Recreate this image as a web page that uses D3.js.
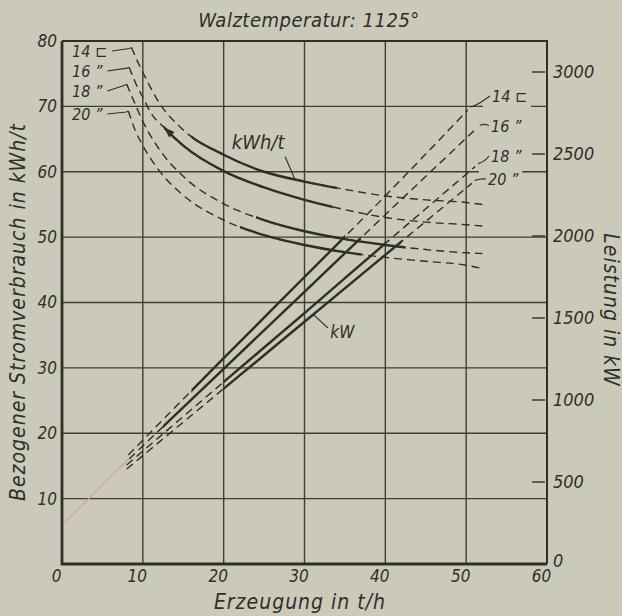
<!DOCTYPE html>
<meta charset="utf-8">
<style>
    body { margin: 0; background: #cbc9ba; }
    svg { display: block; background: #cbc9ba; }
    text {
        font-family: "DejaVu Sans Condensed", "DejaVu Sans", sans-serif;
        font-style: oblique;
        fill: #2f2e28;
    }
    .grid line { stroke: #3f3e35; stroke-width: 1.4; }
    .tick text { font-size: 17px; }
</style>
<svg width="622" height="616"></svg>
<script src="https://d3js.org/d3.v7.min.js"></script>
<script>
    // axis ticks
    var xTicks = [0, 10, 20, 30, 40, 50, 60];
    var yTicks = [10, 20, 30, 40, 50, 60, 70, 80];
    var kwTicks = [0, 500, 1000, 1500, 2000, 2500, 3000];

    // billet sizes (one curve of each kind per size)
    var sizeLabels = ["14 \u228F", "16 \u201D", "18 \u201D", "20 \u201D"];

    // specific consumption kWh/t over output t/h
    var kwhT14 = [[8.6, 79], [9.3, 77], [10, 75.2], [12, 70.6], [15, 66.4], [20, 62.6], [25, 60.0], [30, 58.5], [35, 57.3], [40, 56.3], [45, 55.7], [50, 55.3], [52, 55.0]];
    var kwhT16 = [[8.3, 76], [9.2, 73.3], [10, 71.4], [11, 69.0], [12.6, 66.8], [15, 64.0], [20, 60.1], [25, 57.6], [30, 55.7], [35, 54.2], [40, 53.0], [45, 52.3], [50, 51.9], [52, 51.7]];
    var kwhT18 = [[8.0, 73.4], [9, 70.5], [10, 67.7], [12, 63.5], [15, 59.3], [20, 55.1], [25, 52.6], [30, 50.9], [35, 49.7], [40, 48.8], [45, 48.1], [50, 47.6], [52, 47.5]];
    var kwhT20 = [[8.2, 69.3], [9, 66.5], [10, 64.0], [12, 60.2], [15, 56.4], [20, 52.6], [25, 50.3], [30, 48.8], [35, 47.7], [40, 46.9], [45, 46.3], [50, 45.7], [52, 45.2]];

    // power kW over output t/h
    var kw14 = [[8.2, 665], [20, 1255], [30, 1750], [40, 2245], [50.2, 2768]];
    var kw16 = [[8.3, 640], [20, 1190], [30, 1660], [40, 2130], [51.3, 2657]];
    var kw18 = [[8.0, 604], [20, 1110], [30, 1530], [40, 1955], [51.1, 2423]];
    var kw20 = [[8.0, 579], [20, 1069], [30, 1477], [40, 1885], [50.7, 2321]];

    // measured (solid drawn) ranges in t/h
    var kwhSolid = [[16, 34], [12.6, 33.5], [24, 42.5], [22, 37]];
    var kwSolid = [[16, 35], [12.5, 37], [20, 40], [20, 42]];

    // faint pencil extension towards origin
    var pinkLine = [[0.3, 250], [8.2, 640]];

    var svg = d3.select("svg"),
        width = +svg.attr("width"),
        height = +svg.attr("height");

    var pLeft = 62, pRight = 547, pTop = 41, pBottom = 564;
    var ink = "#2f2e28", paper = "#cbc9ba";

    var x = d3.scaleLinear().domain([0, 60]).range([pLeft, pRight]);
    var y = d3.scaleLinear().domain([0, 80]).range([pBottom, pTop]);
    var yKW = d3.scaleLinear().domain([0, 3000]).range([pBottom, 72]);

    // grid
    var grid = svg.append("g").attr("class", "grid");
    grid.selectAll("line.v")
        .data(xTicks.slice(1, -1))
        .enter().append("line")
        .attr("x1", function(d) { return x(d); })
        .attr("x2", function(d) { return x(d); })
        .attr("y1", pTop).attr("y2", pBottom);
    grid.selectAll("line.h")
        .data(yTicks.slice(0, -1))
        .enter().append("line")
        .attr("x1", pLeft).attr("x2", pRight)
        .attr("y1", function(d) { return y(d); })
        .attr("y2", function(d) { return y(d); });

    // frame
    svg.append("path")
        .attr("d", "M" + pLeft + "," + pTop + "H" + pRight + "V" + pBottom)
        .attr("fill", "none").attr("stroke", ink).attr("stroke-width", 2);
    svg.append("path")
        .attr("d", "M" + pLeft + "," + pTop + "V" + pBottom + "H" + pRight)
        .attr("fill", "none").attr("stroke", ink).attr("stroke-width", 2.8);

    // label backgrounds on the right (gridlines are broken there)
    var bgLayer = svg.append("g");

    var kwhLine = d3.line()
        .x(function(d) { return x(d[0]); })
        .y(function(d) { return y(d[1]); })
        .curve(d3.curveMonotoneX);
    var kwLine = d3.line()
        .x(function(d) { return x(d[0]); })
        .y(function(d) { return yKW(d[1]); })
        .curve(d3.curveMonotoneX);

    svg.append("path")
        .attr("d", kwLine(pinkLine))
        .attr("fill", "none")
        .attr("stroke", "#d9a0a0")
        .attr("stroke-width", 1.3);

    var defs = svg.append("defs");

    function drawSeries(data, line, solid, id) {
        defs.append("clipPath").attr("id", id)
            .append("rect")
            .attr("x", x(solid[0])).attr("width", x(solid[1]) - x(solid[0]))
            .attr("y", 0).attr("height", height);
        svg.append("path")
            .attr("d", line(data))
            .attr("fill", "none")
            .attr("stroke", ink)
            .attr("stroke-width", 1.4)
            .attr("stroke-dasharray", "8,5");
        svg.append("path")
            .attr("d", line(data))
            .attr("fill", "none")
            .attr("stroke", ink)
            .attr("stroke-width", 2.4)
            .attr("clip-path", "url(#" + id + ")");
    }

    var kwhSeries = [kwhT14, kwhT16, kwhT18, kwhT20];
    var kwSeries = [kw14, kw16, kw18, kw20];

    kwhSeries.forEach(function(s, i) { drawSeries(s, kwhLine, kwhSolid[i], "ck" + i); });
    kwSeries.forEach(function(s, i) { drawSeries(s, kwLine, kwSolid[i], "cw" + i); });

    // arrow at start of the measured 16 curve
    (function() {
        var p0 = kwhT16[4], p1 = kwhT16[5];
        var ang = Math.atan2(y(p0[1]) - y(p1[1]), x(p0[0]) - x(p1[0])) * 180 / Math.PI;
        svg.append("path")
            .attr("d", "M0,0L-11,-3.8L-11,3.8Z")
            .attr("fill", ink)
            .attr("transform", "translate(" + x(p0[0]) + "," + y(p0[1]) + ") rotate(" + ang + ")");
    })();

    // size labels top left (kWh/t curves)
    var leftLabY = [57, 77, 97, 120];
    kwhSeries.forEach(function(s, i) {
        var t = svg.append("text")
            .attr("x", 72).attr("y", leftLabY[i])
            .attr("font-size", 16)
            .text(sizeLabels[i]);
        var w = t.node().getComputedTextLength();
        svg.append("path")
            .attr("d", "M" + (72 + w + 5) + "," + (leftLabY[i] - 6) +
                "L" + (x(s[0][0]) - 2) + "," + (y(s[0][1]) + 1) + "l2,-1")
            .attr("fill", "none").attr("stroke", ink).attr("stroke-width", 1.1);
    });

    // size labels right (kW lines)
    var rightLab = [[492, 102], [491, 132], [491, 162], [488, 185]];
    kwSeries.forEach(function(s, i) {
        var e = s[s.length - 1];
        var t = svg.append("text")
            .attr("x", rightLab[i][0]).attr("y", rightLab[i][1])
            .attr("font-size", 16)
            .text(sizeLabels[i]);
        var w = t.node().getComputedTextLength();
        bgLayer.append("rect")
            .attr("x", rightLab[i][0] - 9).attr("y", rightLab[i][1] - 15)
            .attr("width", w + 13).attr("height", 20)
            .attr("fill", paper);
        var ex = x(e[0]), ey = yKW(e[1]);
        svg.append("path")
            .attr("d", "M" + (ex + 3) + "," + (ey - 3) +
                "Q" + (ex + 10) + "," + (ey - 5) + " " + (rightLab[i][0] - 2) + "," + (rightLab[i][1] - 6))
            .attr("fill", "none").attr("stroke", ink).attr("stroke-width", 1.1);
    });

    // curve family labels
    svg.append("text")
        .attr("x", x(21.0)).attr("y", y(63.5))
        .attr("font-size", 20)
        .text("kWh/t");
    svg.append("path")
        .attr("d", "M" + x(27.6) + "," + y(62.3) + "L" + x(28.8) + "," + y(58.9))
        .attr("stroke", ink).attr("stroke-width", 1.1);
    svg.append("text")
        .attr("x", x(33.2)).attr("y", y(34.6))
        .attr("font-size", 17)
        .text("kW");
    svg.append("path")
        .attr("d", "M" + x(32.9) + "," + y(36.1) + "L" + x(31.1) + "," + yKW(1521))
        .attr("stroke", ink).attr("stroke-width", 1.1);

    // left axis
    var yAxis = svg.append("g")
        .attr("transform", "translate(" + pLeft + ",0)")
        .call(d3.axisLeft(y).tickValues(yTicks).tickSize(0).tickPadding(5));
    yAxis.select(".domain").remove();

    // bottom axis
    var xAxis = svg.append("g")
        .attr("transform", "translate(0," + pBottom + ")")
        .call(d3.axisBottom(x).tickValues(xTicks).tickSize(0).tickPadding(6));
    xAxis.select(".domain").remove();
    xAxis.selectAll("text").attr("dx", -6);

    // right axis (kW)
    var kwAxis = svg.append("g").attr("transform", "translate(" + pRight + ",0)");
    kwAxis.selectAll("line")
        .data(kwTicks.filter(function(d) { return d > 0; }))
        .enter().append("line")
        .attr("x1", -15).attr("x2", -2)
        .attr("y1", function(d) { return yKW(d); })
        .attr("y2", function(d) { return yKW(d); })
        .attr("stroke", ink).attr("stroke-width", 1.4);
    kwAxis.selectAll("text")
        .data(kwTicks)
        .enter().append("text")
        .attr("x", 6)
        .attr("y", function(d) { return d === 0 ? yKW(d) - 3 : yKW(d); })
        .attr("dy", "0.35em")
        .attr("font-size", 18)
        .text(function(d) { return d; });

    // titles
    svg.append("text")
        .attr("x", 309).attr("y", 27)
        .attr("text-anchor", "middle")
        .attr("font-size", 20)
        .attr("letter-spacing", 0.5)
        .text("Walztemperatur: 1125\u00B0");
    svg.append("text")
        .attr("transform", "translate(25,312) rotate(-90)")
        .attr("text-anchor", "middle")
        .attr("font-size", 21)
        .attr("letter-spacing", 1)
        .text("Bezogener Stromverbrauch in kWh/t");
    svg.append("text")
        .attr("transform", "translate(604,310) rotate(90)")
        .attr("text-anchor", "middle")
        .attr("font-size", 21)
        .attr("letter-spacing", 1)
        .text("Leistung in kW");
    svg.append("text")
        .attr("x", 300).attr("y", 609)
        .attr("text-anchor", "middle")
        .attr("font-size", 21)
        .attr("letter-spacing", 1)
        .text("Erzeugung in t/h");
</script>
